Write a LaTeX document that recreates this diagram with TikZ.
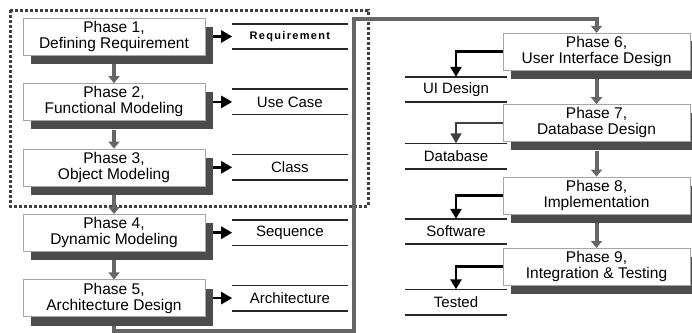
\documentclass[tikz,border=0pt]{standalone}
\usepackage{fontspec}
\setmainfont{Liberation Sans}
\newfontfamily\spacedfont[LetterSpace=12]{Liberation Sans}
\usetikzlibrary{arrows.meta, positioning, shadows}

\begin{document}
\begin{tikzpicture}[x=1pt, y=-1pt, node distance=28pt and 27pt,
  phase/.style={draw=black!35, fill=white, minimum width=182pt, minimum height=37pt, inner sep=0pt, align=center,
    font=\fontsize{15.5}{16}\selectfont,
    drop shadow={shadow xshift=8pt, shadow yshift=-9pt, fill=black!70, opacity=1}},
  outbox/.style={minimum width=115pt, minimum height=25pt, inner sep=0pt, font=\fontsize{15}{16}\selectfont},
  rule/.style={line width=1.6pt, black!85},
  flow/.style={-{Triangle[length=7pt, width=11pt]}, line width=4pt, black!60},
  outarrow/.style={-{Triangle[length=11pt, width=12pt]}, line width=2.5pt},
  elbow/.style={-{Triangle[length=10pt, width=11pt]}, line width=2.5pt},
  frame/.style={draw=black!75, line width=3pt, dash pattern=on 3pt off 2pt},
]
  \useasboundingbox (0,0) rectangle (692,332);

  % dotted frame round phases 1-3
  \path[frame] (10,10) rectangle (368,206);

  % left column
  \node[phase] (p1) at (114,36.5) {Phase 1,\\Defining Requirement};
  \node[phase, below=of p1] (p2) {Phase 2,\\Functional Modeling};
  \node[phase, below=of p2] (p3) {Phase 3,\\Object Modeling};
  \node[phase, below=of p3] (p4) {Phase 4,\\Dynamic Modeling};
  \node[phase, below=of p4] (p5) {Phase 5,\\Architecture Design};

  \node[outbox, right=of p1] (o1) {\spacedfont\fontsize{11}{13}\selectfont\bfseries Requirement};
  \node[outbox, right=of p2] (o2) {Use Case};
  \node[outbox, right=of p3] (o3) {Class};
  \node[outbox, right=of p4] (o4) {Sequence};
  \node[outbox, right=of p5] (o5) {Architecture};

  % right column
  \node[phase, minimum width=187pt, drop shadow={shadow xshift=9pt, shadow yshift=-8pt, fill=black!70, opacity=1}] (p6) at (596.5,51.5) {Phase 6,\\User Interface Design};
  \node[phase, minimum width=187pt, below=34pt of p6] (p7) {Phase 7,\\Database Design};
  \node[phase, minimum width=187pt, below=35pt of p7] (p8) {Phase 8,\\Implementation};
  \node[phase, minimum width=187pt, below=34pt of p8] (p9) {Phase 9,\\Integration \& Testing};

  \node[outbox, minimum width=102pt] (o6) at (456,89.5) {UI Design};
  \node[outbox, minimum width=102pt] (o7) at (456,156) {Database};
  \node[outbox, minimum width=102pt] (o8) at (456,231.5) {Software};
  \node[outbox, minimum width=102pt] (o9) at (456,302) {Tested};

  \foreach \o in {o1,o2,o3,o4,o5,o6,o7,o8,o9} {
    \draw[rule] (\o.north west) -- (\o.north east);
    \draw[rule] (\o.south west) -- (\o.south east);
  }

  % phase order
  \foreach \a/\b in {p1/p2, p2/p3, p3/p4, p4/p5, p6/p7, p7/p8, p8/p9}
    \draw[flow] ([yshift=-9pt]\a.south) -- (\b.north);

  % from phase 5 over to phase 6
  \coordinate (top) at (354,19);
  \draw[flow] ([yshift=-9pt]p5.south) -- ++(0,5) -| (top) -| (p6.north);

  % products
  \foreach \p/\o in {p1/o1, p2/o2, p3/o3, p4/o4, p5/o5}
    \draw[outarrow] ([xshift=8pt]\p.east) -- (\o.west);
  \foreach \p/\o in {p6/o6, p8/o8, p9/o9}
    \draw[elbow] (\p.west) -| (\o.north);
  \draw[elbow, line width=1.8pt, black!75] (p7.west) -| (o7.north);
\end{tikzpicture}
\end{document}
